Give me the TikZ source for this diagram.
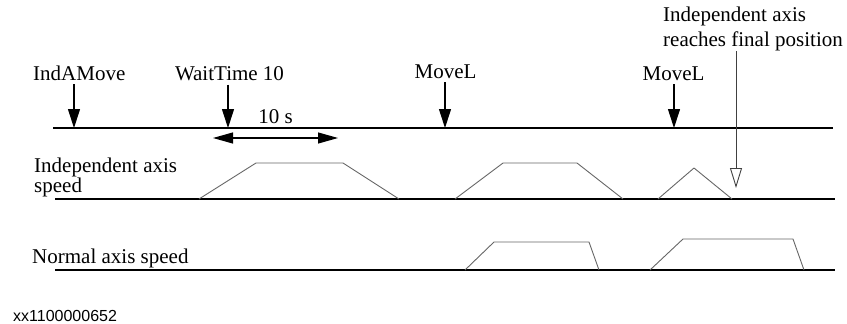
\documentclass[tikz,border=0pt]{standalone}
\usepackage{fontspec}
\setmainfont{Liberation Serif}
\newfontfamily\figidfont{Liberation Sans}
\usetikzlibrary{arrows.meta}

\begin{document}
\begin{tikzpicture}[x=1pt,y=-1pt,
    every node/.style={inner sep=0pt, font=\fontsize{21}{20}\selectfont},
    axisline/.style={line width=1.1pt},
    speedline/.style={line width=0.9pt, color=black!60, line join=round},
    evt/.style={line width=1.1pt, -{Triangle[length=19pt,width=12pt]}, shorten <=4pt},
    span/.style={line width=1.1pt, {Triangle[length=20pt,width=11pt]}-{Triangle[length=20pt,width=11pt]}},
    reached/.style={line width=0.9pt, color=black!75, -{Triangle[open,length=20pt,width=12pt]}}]
    \useasboundingbox (0,0) rectangle (847,324);

    % instruction labels
    \node[anchor=base west] (lIndA) at (33,80) {IndAMove};
    \node[anchor=base] (lWait) at (229.5,80) {WaitTime 10};
    \node[anchor=base] (lMoveA) at (445.5,78) {MoveL};
    \node[anchor=base] (lMoveB) at (673.5,80) {MoveL};
    \node[anchor=north west, align=left, font=\fontsize{21}{25}\selectfont] (lFinal) at (663,7) {Independent axis\\reaches final position};
    \node[anchor=north west, align=left] (lIndSpeed) at (34,158) {Independent axis\\speed};
    \node[anchor=base west] (lNormSpeed) at (32,263) {Normal axis speed};
    \node[anchor=base west, font=\figidfont\fontsize{16}{16}\selectfont] (lFigId) at (13,321.5) {xx1100000652};

    % points on the time line
    \coordinate (tIndA) at (74,128);
    \coordinate (tWait) at (228,128);
    \coordinate (tMoveA) at (445,128);
    \coordinate (tMoveB) at (674,128);
    \coordinate (tFinal) at (736,188);

    \draw[axisline] (53,128) -- (833,128); % time line
    \draw[evt] (lIndA.south -| tIndA) -- (tIndA);
    \draw[evt] (lWait.south -| tWait) -- (tWait);
    \draw[evt] (lMoveA.south -| tMoveA) -- (tMoveA);
    \draw[evt] (lMoveB.south -| tMoveB) -- (tMoveB);
    \draw[span] (213,138) -- node[pos=0.5, anchor=base, yshift=15pt] (lTen) {10 s} (338,138); % wait time

    \draw[axisline] (55,199) -- (835,199); % independent axis
    \draw[speedline] (199,199) -- (256,163) -- (343,163) -- (399,199);
    \draw[speedline] (455,199) -- (503,163) -- (577,163) -- (623,199);
    \draw[speedline] (658,199) -- (694,168) -- (732,199);
    \draw[reached] (lFinal.south -| tFinal) -- (tFinal); % final position

    \draw[axisline] (55,270) -- (835,270); % normal axis
    \draw[speedline] (465,270) -- (494,242) -- (589,242) -- (599,270);
    \draw[speedline] (650,270) -- (683,239) -- (793,239) -- (804,270);
\end{tikzpicture}
\end{document}
